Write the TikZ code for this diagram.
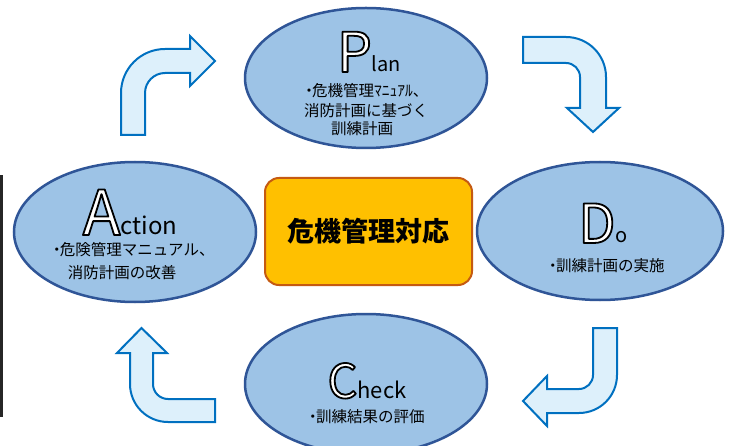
\documentclass[tikz,border=0pt]{standalone}
\usepackage{fontspec}
\setmainfont{Noto Sans CJK JP}
\usetikzlibrary{shapes.geometric}
\definecolor{ellfill}{HTML}{9DC3E6}
\definecolor{elldraw}{HTML}{2F5597}
\definecolor{boxfill}{HTML}{FFC000}
\definecolor{boxdraw}{HTML}{C55A11}
\definecolor{arrfill}{HTML}{DDF0FB}
\definecolor{arrdraw}{HTML}{0070C0}
\newcommand\outlined[1]{{\color{white}\special{pdf:literal direct 0 0 0 RG 1.8 w 1 j 2 Tr}#1\special{pdf:literal direct 0 Tr}}}
\newcommand\bigletter[2]{{\fontsize{#1}{#1}\selectfont\outlined{#2}}}
\newcommand\bul{\kern-0.15em・\kern-0.3em}
\tikzset{
  ell/.style={ellipse, draw=elldraw, fill=ellfill, line width=2.5pt, inner sep=0pt},
  txt/.style={inner sep=0pt, font=\fontsize{15.5}{18}\selectfont},
  word/.style={inner sep=0pt, anchor=base},
  core/.style={rectangle, rounded corners=14pt, draw=boxdraw, fill=boxfill, line width=2pt,
    minimum width=207pt, minimum height=107pt, inner sep=0pt,
    font=\fontsize{27}{30}\selectfont\bfseries},
  bentarrow/.style={draw=arrdraw, fill=arrfill, line width=2pt, line join=miter}
}
\begin{document}
\begin{tikzpicture}[x=1pt, y=-1pt]
\useasboundingbox (0,0) rectangle (730,446);
\fill[white] (0,0) rectangle (730,446);
% left edge strip
\fill[black!85] (0,175) rectangle (2.5,417);

% ellipses
\node[ell, minimum width=242pt, minimum height=140pt] (plan) at (366,78) {};
\node[ell, minimum width=242pt, minimum height=140pt] (action) at (135,232) {};
\node[ell, minimum width=246pt, minimum height=138pt] (do) at (600,231) {};
\node[ell, minimum width=242pt, minimum height=140pt] (check) at (366,384) {};

% centre box
\node[core] (center) at (368.5,231.5) {危機管理対応};

% Plan text
\node[word] (planw) at (369,72) {\bigletter{55}{P}{\fontsize{20}{20}\selectfont lan}};
\node[txt] (plan1) at (366,91) {\bul 危機管理ﾏﾆｭｱﾙ、};
\node[txt] (plan2) at (366,111) {消防計画に基づく};
\node[txt] (plan3) at (362,129) {訓練計画};

% Action text
\node[word] (actw) at (130,235) {\bigletter{62}{A}{\fontsize{24}{24}\selectfont ction}};
\node[txt] (act1) at (133,250) {\bul 危険管理マニュアル、};
\node[txt] (act2) at (122,273) {消防計画の改善};

% Do text
\node[word] (dow) at (603,243) {\bigletter{54}{D}{\fontsize{20}{20}\selectfont o}};
\node[txt] (do1) at (606,266) {\bul 訓練計画の実施};

% Check text
\node[word] (chw) at (367,398) {\bigletter{47}{C}{\fontsize{22}{22}\selectfont heck}};
\node[txt] (ch1) at (366,417) {\bul 訓練結果の評価};

% bent arrows
\draw[bentarrow] (121,135) -- (121,93) .. controls (121,68.7) and (140.7,49) .. (165,49)
  -- (190,49) -- (190,36) -- (215,61) -- (190,86) -- (190,73) -- (165,73)
  .. controls (154,73) and (145,82) .. (145,93) -- (145,135) -- cycle;
\draw[bentarrow] (523,37) -- (566,37) .. controls (588.1,37) and (606,54.9) .. (606,77)
  -- (606,108) -- (619,108) -- (593,132) -- (567,108) -- (580,108) -- (580,77)
  .. controls (580,69.3) and (573.7,63) .. (566,63) -- (523,63) -- cycle;
\draw[bentarrow] (593,328) -- (617,328) -- (617,375) .. controls (617,396) and (600,413) .. (579,413)
  -- (547,413) -- (547,426) -- (523,401) -- (547,376) -- (547,389) -- (579,389)
  .. controls (586.7,389) and (593,382.7) .. (593,375) -- cycle;
\draw[bentarrow] (130,353) -- (117,353) -- (141.5,328) -- (167,353) -- (153,353) -- (153,384)
  .. controls (153,392.3) and (159.7,399) .. (168,399) -- (215,399) -- (215,422) -- (168,422)
  .. controls (147,422) and (130,405) .. (130,384) -- cycle;
\end{tikzpicture}
\end{document}
